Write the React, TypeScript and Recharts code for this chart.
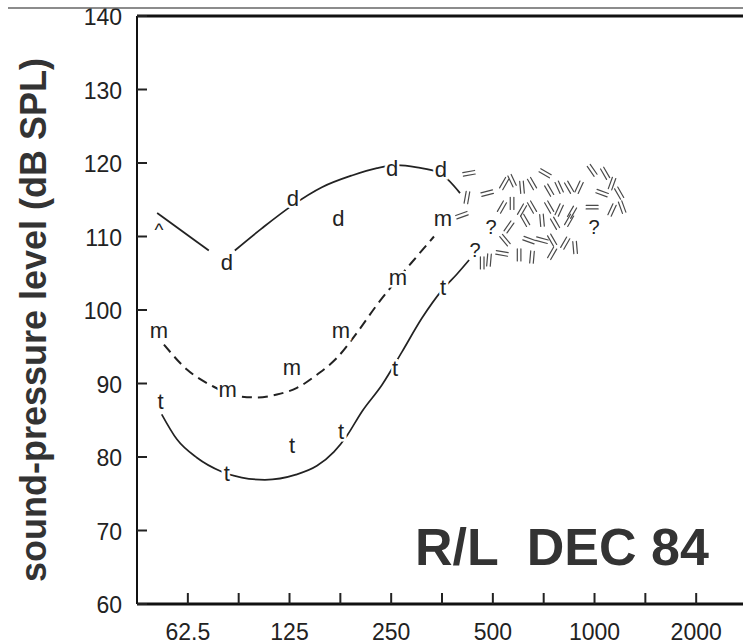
import { ComposedChart, Line, ReferenceLine, Scatter, XAxis, YAxis } from "recharts";

// frequency (Hz) / level (dB SPL) pairs
const dLineLow = [
	{ f: 50.7, db: 113.2 },
	{ f: 72.1, db: 108.1 },
];
const dLineHigh = [
	{ f: 86.1, db: 108.1 },
	{ f: 103.5, db: 111.1 },
	{ f: 127.1, db: 114.2 },
	{ f: 155.9, db: 116.7 },
	{ f: 191.3, db: 118.3 },
	{ f: 226.9, db: 119.3 },
	{ f: 260, db: 119.7 },
	{ f: 298, db: 119.4 },
	{ f: 346, db: 118.7 },
	{ f: 399.7, db: 115.9 },
];
const mLine = [
	{ f: 53.1, db: 95.3 },
	{ f: 62.1, db: 91.9 },
	{ f: 73.6, db: 89.7 },
	{ f: 87.3, db: 88.3 },
	{ f: 100.1, db: 88.1 },
	{ f: 114.7, db: 88.5 },
	{ f: 131.5, db: 89.4 },
	{ f: 150.7, db: 91.2 },
	{ f: 172.8, db: 93.5 },
	{ f: 197.9, db: 96.9 },
	{ f: 226.9, db: 100.7 },
	{ f: 260, db: 104.1 },
	{ f: 298, db: 107.3 },
	{ f: 334.7, db: 110.0 },
];
const tLine = [
	{ f: 52.3, db: 85.8 },
	{ f: 58.0, db: 82.4 },
	{ f: 66.5, db: 79.9 },
	{ f: 78.8, db: 78.0 },
	{ f: 90.3, db: 77.2 },
	{ f: 105.7, db: 76.9 },
	{ f: 130.6, db: 77.6 },
	{ f: 150.7, db: 78.8 },
	{ f: 169.2, db: 80.7 },
	{ f: 184.9, db: 82.9 },
	{ f: 204.9, db: 86.2 },
	{ f: 234.7, db: 89.8 },
	{ f: 269.1, db: 94.3 },
	{ f: 308.4, db: 98.9 },
	{ f: 353.6, db: 102.7 },
	{ f: 391.7, db: 104.9 },
	{ f: 425.2, db: 106.8 },
];

// measured points, drawn as letters
const caretPoints = [{ f: 51.3, db: 110.6 }];
const dPoints = [
	{ f: 81.5, db: 106.4 },
	{ f: 128, db: 115.2 },
	{ f: 174.5, db: 112.5 },
	{ f: 251.4, db: 119.3 },
	{ f: 351, db: 119.1 },
];
const mPoints = [
	{ f: 51.3, db: 97.0 },
	{ f: 82.0, db: 88.9 },
	{ f: 127.1, db: 91.9 },
	{ f: 177.5, db: 96.9 },
	{ f: 261.9, db: 104.1 },
	{ f: 356, db: 112.2 },
];
const tPoints = [
	{ f: 51.9, db: 87.5 },
	{ f: 81.5, db: 77.8 },
	{ f: 127.1, db: 81.6 },
	{ f: 177.5, db: 83.5 },
	{ f: 256.5, db: 92.0 },
	{ f: 356, db: 103.1 },
];
const qPoints = [
	{ f: 442.9, db: 108.1 },
	{ f: 493.8, db: 111.3 },
	{ f: 997.5, db: 111.3 },
];

// hatched region of uncertain responses: a = stroke angle in degrees
const hatchMarks = [
	{ f: 425, db: 118.6, a: 10 },
	{ f: 419, db: 115.3, a: 80 },
	{ f: 481, db: 115.9, a: 15 },
	{ f: 540, db: 117.2, a: 60 },
	{ f: 570, db: 117.6, a: 115 },
	{ f: 610, db: 116.7, a: 95 },
	{ f: 653, db: 117.2, a: 120 },
	{ f: 714, db: 118.6, a: 150 },
	{ f: 734, db: 116.3, a: 120 },
	{ f: 786, db: 116.7, a: 115 },
	{ f: 841, db: 116.7, a: 120 },
	{ f: 900, db: 116.7, a: 65 },
	{ f: 984, db: 119.0, a: 125 },
	{ f: 1075, db: 118.6, a: 120 },
	{ f: 1127, db: 117.2, a: 70 },
	{ f: 1053, db: 115.9, a: 160 },
	{ f: 1183, db: 115.9, a: 120 },
	{ f: 984, db: 114.0, a: 0 },
	{ f: 1127, db: 113.6, a: 65 },
	{ f: 1207, db: 114.0, a: 110 },
	{ f: 532, db: 114.0, a: 60 },
	{ f: 570, db: 114.5, a: 90 },
	{ f: 610, db: 113.6, a: 60 },
	{ f: 653, db: 114.0, a: 120 },
	{ f: 734, db: 114.0, a: 120 },
	{ f: 786, db: 113.6, a: 65 },
	{ f: 858, db: 113.3, a: 60 },
	{ f: 405, db: 112.9, a: 20 },
	{ f: 558, db: 111.3, a: 55 },
	{ f: 623, db: 112.2, a: 120 },
	{ f: 699, db: 112.2, a: 95 },
	{ f: 764, db: 111.8, a: 120 },
	{ f: 841, db: 112.2, a: 60 },
	{ f: 543, db: 109.5, a: 130 },
	{ f: 640, db: 109.5, a: 160 },
	{ f: 699, db: 109.5, a: 165 },
	{ f: 749, db: 109.5, a: 120 },
	{ f: 819, db: 109.1, a: 60 },
	{ f: 876, db: 108.5, a: 95 },
	{ f: 532, db: 107.7, a: 170 },
	{ f: 598, db: 107.5, a: 90 },
	{ f: 653, db: 107.2, a: 85 },
	{ f: 749, db: 107.7, a: 60 },
	{ f: 465, db: 106.4, a: 90 },
	{ f: 487, db: 106.8, a: 85 },
];

const xTicks = [62.5, 88.39, 125, 176.78, 250, 353.55, 500, 707.11, 1000, 1414.2, 2000];
const xTickLabels: Record<number, string> = {
	62.5: "62.5",
	125: "125",
	250: "250",
	500: "500",
	1000: "1000",
	2000: "2000",
};
const yTicks = [60, 70, 80, 90, 100, 110, 120, 130, 140];

const FONT = "'Liberation Sans', Arial, Helvetica, sans-serif";
const INK = "#222";

const XTick = ({ x, y, payload }: any) => {
	const label = xTickLabels[payload.value];
	return (
		<g>
			<line x1={x} y1={y} x2={x} y2={y - 11} stroke={INK} strokeWidth={2} />
			{label && (
				<text x={x} y={y + 28} textAnchor="middle" dominantBaseline="central" fontSize={23} fontFamily={FONT} fill={INK}>
					{label}
				</text>
			)}
		</g>
	);
};

const YTick = ({ x, y, payload }: any) => (
	<g>
		<line x1={x} y1={y} x2={x + 10} y2={y} stroke={INK} strokeWidth={2} />
		<text x={x - 15} y={y + 1} textAnchor="end" dominantBaseline="central" fontSize={23} fontFamily={FONT} fill={INK}>
			{payload.value}
		</text>
	</g>
);

// letter symbol with a white halo so the curve breaks around it
const letter = (ch: string, size = 22, dy = 0) => (props: any) => (
	<text
		x={props.cx}
		y={props.cy + dy}
		textAnchor="middle"
		dominantBaseline="central"
		fontSize={size}
		fontFamily={FONT}
		fill={INK}
		stroke="#fff"
		strokeWidth={5}
		paintOrder="stroke"
	>
		{ch}
	</text>
);

const HatchMark = ({ cx, cy, payload }: any) => {
	const r = (payload.a * Math.PI) / 180;
	const dx = Math.cos(r) * 6;
	const dy = -Math.sin(r) * 6;
	const nx = Math.sin(r) * 1.8;
	const ny = Math.cos(r) * 1.8;
	return (
		<g stroke="#4a4a4a" strokeWidth={1.2} strokeLinecap="round">
			<line x1={cx - dx + nx} y1={cy - dy + ny} x2={cx + dx + nx} y2={cy + dy + ny} />
			<line x1={cx - dx - nx} y1={cy - dy - ny} x2={cx + dx - nx} y2={cy + dy - ny} />
		</g>
	);
};

export default function App() {
	return (
		<div style={{ position: "fixed", left: 0, top: 0, width: 743, height: 644, overflow: "hidden", background: "#fff" }}>
			<ComposedChart width={760} height={644} margin={{ top: 16, right: 13, left: 0, bottom: 0 }}>
				<XAxis
					dataKey="f"
					type="number"
					scale="log"
					domain={[44.19, 2828]}
					allowDataOverflow
					ticks={xTicks}
					interval={0}
					height={40}
					tickSize={0}
					tickMargin={0}
					tick={<XTick />}
					axisLine={{ stroke: "#111", strokeWidth: 3 }}
				/>
				<YAxis
					dataKey="db"
					type="number"
					domain={[60, 140]}
					ticks={yTicks}
					interval={0}
					width={137}
					tickSize={0}
					tickMargin={0}
					tick={<YTick />}
					axisLine={{ stroke: "#111", strokeWidth: 2 }}
				/>
				<ReferenceLine y={140} stroke="#111" strokeWidth={3} />

				<Line data={dLineLow} dataKey="db" type="monotone" stroke={INK} strokeWidth={1.8} dot={false} activeDot={false} isAnimationActive={false} />
				<Line data={dLineHigh} dataKey="db" type="monotone" stroke={INK} strokeWidth={1.8} dot={false} activeDot={false} isAnimationActive={false} />
				<Line data={mLine} dataKey="db" type="monotone" stroke={INK} strokeWidth={2} strokeDasharray="10 6" dot={false} activeDot={false} isAnimationActive={false} />
				<Line data={tLine} dataKey="db" type="monotone" stroke={INK} strokeWidth={1.7} dot={false} activeDot={false} isAnimationActive={false} />

				<Scatter data={hatchMarks} dataKey="db" shape={HatchMark} isAnimationActive={false} />
				<Scatter data={caretPoints} dataKey="db" shape={letter("^", 19, -3)} isAnimationActive={false} />
				<Scatter data={dPoints} dataKey="db" shape={letter("d")} isAnimationActive={false} />
				<Scatter data={mPoints} dataKey="db" shape={letter("m", 22, -2)} isAnimationActive={false} />
				<Scatter data={tPoints} dataKey="db" shape={letter("t")} isAnimationActive={false} />
				<Scatter data={qPoints} dataKey="db" shape={letter("?", 20)} isAnimationActive={false} />
			</ComposedChart>

			<svg width={743} height={644} style={{ position: "absolute", left: 0, top: 0, pointerEvents: "none" }}>
				<rect x={0} y={0} width={743} height={8} fill="#fff" />
				<line x1={8} y1={8} x2={743} y2={8} stroke="#666" strokeWidth={1.5} />
				<text
					x={33}
					y={320}
					transform="rotate(-90 33 320)"
					textAnchor="middle"
					dominantBaseline="central"
					fontSize={36}
					fontWeight="bold"
					fontFamily={FONT}
					fill="#333"
				>
					sound-pressure level (dB SPL)
				</text>
				<text x={415} y={565} fontSize={52} fontWeight="bold" fontFamily={FONT} fill="#333" style={{ whiteSpace: "pre" }}>
					{"R/L  DEC 84"}
				</text>
			</svg>
		</div>
	);
}
